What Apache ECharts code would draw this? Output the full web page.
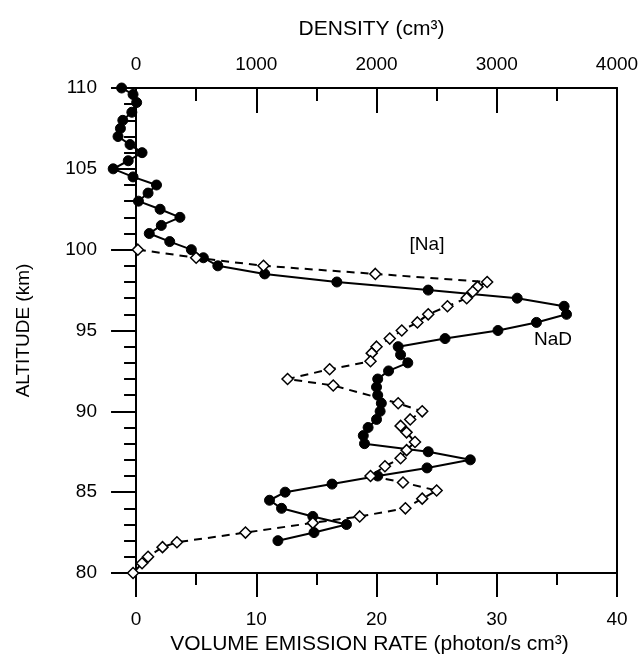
<!DOCTYPE html>
<html>
<head>
<meta charset="utf-8">
<script src="https://cdn.jsdelivr.net/npm/echarts@6/dist/echarts.min.js"></script>
<style>
html,body{margin:0;padding:0;background:#fff;}
#chart{width:641px;height:655px;}
</style>
</head>
<body>
<div id="chart"></div>
<script>
// NaD volume emission rate profile (photon/s cm^3) vs altitude (km)
const nadAlt = [110.0,109.6,109.1,108.5,108.0,107.5,107.0,106.5,106.0,105.5,105.0,104.5,104.0,103.5,103.0,102.5,102.0,101.5,101.0,100.5,100.0,99.5,99.0,98.5,98.0,97.5,97.0,96.5,96.0,95.5,95.0,94.5,94.0,93.5,93.0,92.5,92.0,91.5,91.0,90.5,90.0,89.5,89.0,88.5,88.0,87.5,87.0,86.5,86.0,85.5,85.0,84.5,84.0,83.5,83.0,82.5,82.0];
const nadVer = [-1.2,-0.25,0.05,-0.35,-1.1,-1.3,-1.5,-0.5,0.5,-0.65,-1.9,-0.25,1.7,1.0,0.2,2.0,3.65,2.1,1.1,2.8,4.6,5.6,6.8,10.7,16.7,24.3,31.7,35.6,35.8,33.3,30.1,25.7,21.8,22.0,22.6,21.0,20.1,20.0,20.1,20.4,20.3,20.0,19.3,18.9,19.0,24.3,27.8,24.2,20.1,16.3,12.4,11.1,12.1,14.7,17.5,14.8,11.8];
// [Na] density (cm^-3) vs altitude (km)
const naAlt = [100.0,99.5,99.0,98.5,98.0,97.7,97.4,97.0,96.5,96.0,95.5,95.0,94.5,94.0,93.6,93.1,92.6,92.0,91.6,90.5,90.0,89.5,89.1,88.7,88.1,87.6,87.1,86.6,86.0,85.6,85.1,84.6,84.0,83.5,83.1,82.5,81.9,81.6,81.0,80.6,80.0];
const naDensity = [15,500,1060,1990,2920,2840,2800,2750,2590,2430,2340,2210,2110,2000,1960,1950,1610,1260,1640,2180,2380,2280,2200,2250,2320,2250,2200,2070,1950,2220,2500,2380,2240,1860,1470,910,340,220,100,50,-25];
// tick values
const verMajorTicks = [0,10,20,30,40];
const verMinorTicks = [5,15,25,35];
const densMajorTicks = [0,1000,2000,3000,4000];
const densMinorTicks = [500,1500,2500,3500];

const FONT = 'Liberation Sans, Arial, sans-serif';
const chart = echarts.init(document.getElementById('chart'), null, {renderer:'canvas'});

const lineBlack = {show:true, lineStyle:{color:'#000', width:2}, onZero:false};
const noLine = {show:false};
const plain = v => String(v);

const option = {
  animation:false,
  backgroundColor:'#fff',
  grid:{left:112, right:24, top:88, bottom:82, containLabel:false, outerBoundsMode:'none'},
  xAxis:[
    { // bottom VER axis
      type:'value', position:'bottom', min:-2, max:40, splitNumber:4,
      axisLine:lineBlack,
      axisTick:{show:true, length:24, inside:false, customValues:verMajorTicks, lineStyle:{color:'#000', width:2}},
      axisLabel:{show:true, customValues:verMajorTicks, formatter:plain, margin:37, color:'#000', fontSize:19, fontFamily:FONT},
      splitLine:{show:false},
      name:'VOLUME EMISSION RATE (photon/s cm³)', nameLocation:'middle', nameGap:59,
      nameTextStyle:{color:'#000', fontSize:21, fontFamily:FONT, padding:[0,0,0,10]}
    },
    { // top density axis
      type:'value', position:'top', min:-200, max:4000, splitNumber:4,
      axisLine:lineBlack,
      axisTick:{show:true, length:25, inside:true, customValues:densMajorTicks, lineStyle:{color:'#000', width:2}},
      axisLabel:{show:true, customValues:densMajorTicks, formatter:plain, margin:14, color:'#000', fontSize:19, fontFamily:FONT},
      splitLine:{show:false},
      name:'DENSITY (cm³)', nameLocation:'middle', nameGap:48,
      nameTextStyle:{color:'#000', fontSize:21, fontFamily:FONT, padding:[0,0,0,14]}
    },
    { // bottom minor ticks
      type:'value', position:'bottom', min:-2, max:40, splitNumber:4,
      axisLine:noLine,
      axisTick:{show:true, length:12, inside:false, customValues:verMinorTicks, lineStyle:{color:'#000', width:2}},
      axisLabel:{show:false}, splitLine:{show:false}
    },
    { // top minor ticks
      type:'value', position:'top', min:-200, max:4000, splitNumber:4,
      axisLine:noLine,
      axisTick:{show:true, length:13, inside:true, customValues:densMinorTicks, lineStyle:{color:'#000', width:2}},
      axisLabel:{show:false}, splitLine:{show:false}
    }
  ],
  yAxis:[
    {
      type:'value', position:'left', min:80, max:110, interval:5,
      axisLine:{show:true, onZero:true, lineStyle:{color:'#000', width:2}},
      axisTick:{show:true, length:25, inside:false, lineStyle:{color:'#000', width:2}},
      minorTick:{show:true, splitNumber:5, length:12, lineStyle:{color:'#000', width:2}},
      axisLabel:{show:true, margin:15, color:'#000', fontSize:19, fontFamily:FONT},
      splitLine:{show:false}, minorSplitLine:{show:false},
      name:'ALTITUDE (km)', nameLocation:'middle', nameGap:79, nameRotate:90,
      nameTextStyle:{color:'#000', fontSize:19, fontFamily:FONT}
    },
    {
      type:'value', position:'right', min:80, max:110, interval:5,
      axisLine:{show:true, onZero:false, lineStyle:{color:'#000', width:2}},
      axisTick:{show:false}, axisLabel:{show:false}, splitLine:{show:false}
    }
  ],
  graphic:[
    {type:'text', x:427, y:245, style:{text:'[Na]', fill:'#000', font:'19px '+FONT, textAlign:'center', textVerticalAlign:'middle'}},
    {type:'text', x:553, y:340, style:{text:'NaD', fill:'#000', font:'19px '+FONT, textAlign:'center', textVerticalAlign:'middle'}}
  ],
  series:[
    {
      name:'NaD', type:'line', xAxisIndex:0, yAxisIndex:0,
      data: nadAlt.map((a,i)=>[nadVer[i], a]),
      symbol:'circle', symbolSize:10, showAllSymbol:true,
      itemStyle:{color:'#000', borderColor:'#000'},
      lineStyle:{color:'#000', width:2}, z:2
    },
    {
      name:'[Na]', type:'line', xAxisIndex:1, yAxisIndex:0,
      data: naAlt.map((a,i)=>[naDensity[i], a]),
      symbol:'diamond', symbolSize:11, showAllSymbol:true,
      itemStyle:{color:'#fff', borderColor:'#000', borderWidth:1.5},
      lineStyle:{color:'#000', width:2, type:[8,6]}, z:3
    }
  ]
};
chart.setOption(option);
</script>
</body>
</html>
